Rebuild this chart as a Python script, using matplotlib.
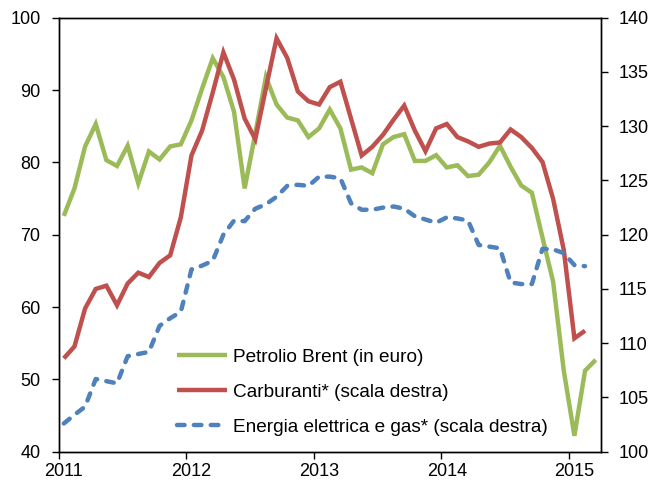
import matplotlib
matplotlib.use("Agg")
import matplotlib.pyplot as plt
import numpy as np

plt.rcParams['font.family'] = ['Liberation Sans', 'DejaVu Sans']

years = ["2011", "2012", "2013", "2014", "2015"]

brent = [72.6, 76.4, 82.2, 85.3, 80.3, 79.5, 82.3, 77.1, 81.5, 80.4, 82.2, 82.5,
         85.8, 90.2, 94.4, 91.8, 87.0, 76.4, 84.0, 91.8, 88.0, 86.2, 85.8, 83.5,
         84.7, 87.3, 84.7, 79.0, 79.3, 78.5, 82.5, 83.5, 83.9, 80.2, 80.2, 81.0,
         79.3, 79.6, 78.1, 78.3, 80.0, 82.3, 79.4, 76.8, 75.8, 69.6, 63.5, 51.2,
         42.2, 51.2, 52.7]

carburanti = [108.6, 109.7, 113.2, 115.0, 115.3, 113.5, 115.5, 116.5, 116.1, 117.4, 118.1, 121.6,
              127.3, 129.6, 133.1, 136.8, 134.3, 130.7, 128.8, 133.5, 138.1, 136.3, 133.2, 132.3,
              132.0, 133.6, 134.1, 130.7, 127.3, 128.1, 129.2, 130.6, 131.9, 129.6, 127.7, 129.8,
              130.2, 129.0, 128.6, 128.1, 128.4, 128.5, 129.7, 129.0, 128.0, 126.7, 123.3, 118.6,
              110.45, 111.15]

energia = [102.6, 103.4, 104.15, 106.7, 106.5, 106.3, 108.8, 109.0, 109.2, 111.6, 112.3, 112.9,
           116.8, 117.15, 117.6, 120.0, 121.3, 121.25, 122.4, 122.8, 123.5, 124.5, 124.6, 124.5,
           125.35, 125.35, 125.2, 122.9, 122.3, 122.3, 122.5, 122.6, 122.4, 121.7, 121.4, 121.1,
           121.6, 121.5, 121.3, 119.05, 118.9, 118.75, 115.6, 115.45, 115.45, 118.7, 118.65, 118.3,
           117.2, 117.1]

labels = ["Petrolio Brent (in euro)", "Carburanti* (scala destra)",
          "Energia elettrica e gas* (scala destra)"]

GREEN = "#9BBB59"
RED = "#C0504D"
BLUE = "#4F81BD"

fig = plt.figure(figsize=(6.52, 4.80), dpi=100)
ax = fig.add_axes([58.5 / 652, 1 - 451.7 / 480, (601 - 58.5) / 652, (451.7 - 17.7) / 480])
ax2 = ax.twinx()

x_b = np.arange(len(brent)) + 0.5
x_c = np.arange(len(carburanti)) + 0.5
x_e = np.arange(len(energia)) + 0.5

lw = 3.2
l1, = ax.plot(x_b, brent, color=GREEN, lw=lw, solid_joinstyle='miter', solid_capstyle='butt', label=labels[0])
l2, = ax2.plot(x_c, carburanti, color=RED, lw=lw, solid_joinstyle='miter', solid_capstyle='butt', label=labels[1])
l3, = ax2.plot(x_e, energia, color=BLUE, lw=lw, linestyle=(0, (1.7, 2.1)), dash_capstyle='round', label=labels[2])

ax.set_xlim(0, 51)
ax.set_ylim(40, 100)
ax2.set_ylim(100, 140)
ax.set_yticks(np.arange(40, 101, 10))
ax2.set_yticks(np.arange(100, 141, 5))

ax.set_xticks([0, 12, 24, 36, 48])
ax.set_xticklabels([])
ax.set_xticks([0.5, 12.5, 24.5, 36.5, 48.5], minor=True)
ax.set_xticklabels(years, minor=True)
ax.tick_params(axis='x', which='minor', length=0, pad=8, labelsize=13)
ax.tick_params(axis='x', which='major', direction='out', length=5, width=1)
ax.tick_params(axis='y', direction='out', length=5, width=1, pad=8, labelsize=13)
ax2.tick_params(axis='y', direction='out', length=5, width=1, pad=7.5, labelsize=13)

for a in (ax, ax2):
    for s in a.spines.values():
        s.set_linewidth(1.0)
        s.set_color('black')

leg = ax2.legend([l1, l2, l3], labels, loc='upper left', bbox_to_anchor=(0.218, 0.2377),
                 frameon=False, fontsize=13.7, handlelength=2.63, handletextpad=0.31,
                 labelspacing=0.935, borderpad=0, borderaxespad=0)

fig.savefig("out.png", dpi=100)
